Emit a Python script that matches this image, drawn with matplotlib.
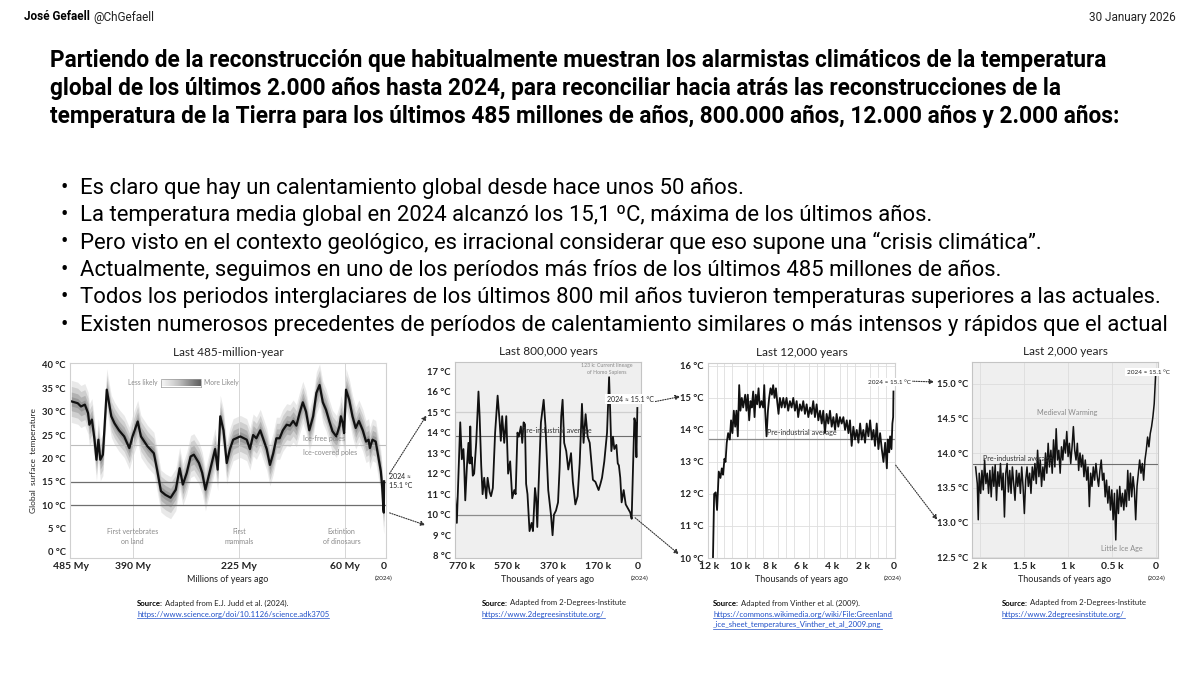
import numpy as np
import matplotlib
matplotlib.use("Agg")
import matplotlib.pyplot as plt

# ---------------- data ----------------
# Last 485 million years (Judd et al. 2024), millions of years ago / deg C
phan_my = [485, 475, 470, 464, 459, 457, 453, 449, 446, 443, 440, 436, 430, 423, 418,
           411, 403, 395, 390, 382, 377, 367, 357, 352, 346, 339, 331, 323, 317, 312,
           306, 300, 295, 287, 282, 277, 262, 258, 254, 249, 244, 239, 234, 223, 213,
           208, 203, 198, 192, 187, 182, 177, 172, 167, 162, 157, 151, 146, 141, 136,
           131, 126, 121, 116, 110, 105, 100, 95, 90, 85, 80, 74, 69, 67, 64,
           62, 59, 54, 49, 44, 39, 33, 28, 24, 22, 18, 13, 9, 5, 3,
           1, 0.4, 0]
phan_temp = [32.2, 31.8, 31.1, 31.5, 29.7, 27.2, 28.3, 24.0, 19.7, 24.0, 19.7, 20.8, 34.7, 29.0, 27.5,
             26.0, 24.7, 22.2, 24.7, 27.9, 24.7, 22.6, 21.1, 17.6, 13.0, 12.2, 11.6, 13.3, 17.9, 14.4,
             16.9, 20.4, 20.8, 19.0, 16.9, 13.3, 22.0, 17.6, 29.0, 26.0, 19.0, 22.0, 24.0, 24.7, 24.0,
             22.0, 25.0, 24.3, 26.0, 24.0, 22.0, 18.6, 21.0, 24.3, 24.3, 26.0, 27.2, 27.0, 28.0, 27.0,
             29.7, 32.0, 30.0, 26.0, 29.0, 34.0, 35.7, 32.0, 30.4, 28.0, 25.8, 24.7, 27.0, 29.0, 27.5,
             25.4, 34.7, 32.5, 29.0, 26.5, 28.0, 26.0, 23.6, 24.0, 22.2, 24.0, 23.6, 20.4, 17.2, 14.0,
             9.0, 8.4, 15.1]

# Last 800,000 years (2-Degrees-Institute), thousands of years ago / deg C
ice_kyr = [800, 792, 777, 770, 763, 760, 755, 748, 741, 736, 733, 729, 726, 722, 716,
           707, 697, 692, 685, 679, 672, 663, 657, 648, 642, 634, 624, 613, 604, 599,
           593, 584, 575, 567, 558, 549, 540, 534, 526, 520, 511, 505, 499, 493, 488,
           482, 473, 464, 458, 449, 444, 439, 433, 423, 411, 403, 391, 379, 372, 366,
           357, 348, 341, 334, 328, 321, 312, 303, 291, 283, 272, 262, 253, 243, 236,
           227, 218, 209, 195, 184, 170, 162, 155, 145, 133, 124, 119, 114, 107, 101,
           92, 86, 81, 75, 69, 60, 51, 41, 31, 25, 19, 13, 9, 4, 0]
ice_temp = [10.96, 9.6, 14.5, 12.7, 13.2, 12.5, 10.7, 12.3, 13.5, 12.5, 14.3, 12.5, 12.8, 11.9, 12.0,
            13.5, 16.0, 14.8, 12.4, 11.0, 11.8, 10.8, 11.8, 11.1, 10.9, 11.3, 14.0, 15.8, 14.5, 13.6,
            14.8, 13.5, 14.8, 12.0, 12.6, 10.8, 11.2, 11.0, 14.0, 13.8, 14.3, 13.5, 14.5, 14.4, 11.5,
            11.0, 9.2, 9.6, 9.2, 11.3, 10.8, 9.4, 11.5, 14.5, 15.6, 14.3, 11.2, 10.0, 9.0, 10.0,
            10.2, 10.6, 12.3, 14.8, 15.6, 13.5, 13.1, 12.2, 13.0, 11.6, 10.5, 10.9, 12.5, 15.4, 13.5,
            14.9, 13.8, 13.5, 11.7, 11.6, 11.2, 11.5, 11.8, 12.6, 14.0, 16.7, 15.0, 13.1, 13.8, 13.2,
            13.4, 12.5, 12.4, 11.8, 10.6, 11.2, 10.5, 10.3, 10.1, 9.8, 12.3, 14.7, 14.5, 12.8, 15.2]

# Last 12,000 years (Vinther et al. 2009)
holo_kyr = [11.75, 11.67, 11.57, 11.48, 11.37, 11.26, 11.17, 11.09, 11.0, 10.93, 10.85, 10.76, 10.65,
            10.57, 10.48, 10.39, 10.30, 10.22, 10.13, 10.04, 9.96, 9.87, 9.78, 9.65, 9.57, 9.48,
            9.39, 9.30, 9.22, 9.13, 9.04, 8.96, 8.87, 8.78, 8.70, 8.59, 8.48, 8.41, 8.35, 8.26,
            8.17, 8.09, 8.0, 7.91, 7.83, 7.74, 7.65, 7.57, 7.48, 7.39, 7.28, 7.17, 7.07, 6.96,
            6.85, 6.74, 6.63, 6.52, 6.41, 6.30, 6.20, 6.09, 5.98, 5.87, 5.76, 5.65, 5.54, 5.43,
            5.33, 5.22, 5.11, 5.0, 4.89, 4.78, 4.67, 4.57, 4.46, 4.35, 4.24, 4.13, 4.02, 3.91,
            3.80, 3.70, 3.59, 3.48, 3.37, 3.26, 3.15, 3.04, 2.93, 2.83, 2.72, 2.61, 2.50, 2.39,
            2.28, 2.17, 2.07, 1.96, 1.85, 1.74, 1.63, 1.52, 1.41, 1.30, 1.20, 1.09, 0.98, 0.87,
            0.76, 0.65, 0.54, 0.43, 0.37, 0.28, 0.22, 0.13, 0.07, 0.02, 0.0]
holo_temp = [9.9, 12.0, 12.05, 11.5, 12.7, 12.5, 12.8, 12.6, 13.1, 13.0, 13.6, 13.9, 13.7,
             14.3, 13.9, 14.6, 14.1, 14.6, 13.8, 15.4, 14.6, 15.0, 14.7, 15.1, 14.6, 15.1,
             14.3, 14.9, 14.7, 15.2, 14.4, 15.1, 14.8, 15.3, 14.7, 14.9, 14.7, 15.4, 14.6, 13.8,
             14.6, 15.0, 15.3, 15.1, 15.4, 15.0, 15.3, 14.9, 14.5, 15.0, 14.7, 15.0, 14.7, 15.0,
             14.6, 14.9, 14.7, 15.0, 14.6, 14.9, 14.4, 14.8, 14.6, 14.9, 14.5, 14.8, 14.4, 14.7,
             14.5, 14.9, 14.4, 14.8, 14.3, 14.6, 14.2, 14.6, 13.9, 14.5, 14.2, 14.6, 14.1, 14.4,
             14.0, 14.5, 14.1, 14.4, 14.2, 14.4, 14.0, 14.3, 13.9, 14.3, 13.5, 14.1, 13.7, 14.0,
             13.6, 14.2, 13.7, 14.0, 13.6, 14.2, 13.8, 14.3, 13.7, 14.0, 13.5, 14.2, 13.4, 13.9,
             13.4, 13.0, 13.6, 12.8, 13.7, 13.3, 13.8, 13.4, 14.2, 14.4, 15.2]

# Last 2,000 years (2-Degrees-Institute)
ce_kyr = [2.049, 2.030, 2.019, 2.008, 1.992, 1.977, 1.962, 1.947, 1.932, 1.917, 1.902, 1.887, 1.872,
          1.857, 1.842, 1.827, 1.812, 1.797, 1.782, 1.767, 1.752, 1.737, 1.722, 1.707, 1.692, 1.677,
          1.662, 1.647, 1.632, 1.617, 1.602, 1.586, 1.571, 1.556, 1.541, 1.526, 1.511, 1.496, 1.481,
          1.466, 1.451, 1.436, 1.421, 1.406, 1.391, 1.376, 1.361, 1.346, 1.331, 1.316, 1.301, 1.286,
          1.271, 1.256, 1.241, 1.226, 1.211, 1.195, 1.180, 1.165, 1.150, 1.135, 1.120, 1.105, 1.090,
          1.075, 1.060, 1.045, 1.030, 1.015, 1.000, 0.985, 0.970, 0.955, 0.940, 0.925, 0.910, 0.895,
          0.880, 0.865, 0.850, 0.835, 0.820, 0.805, 0.789, 0.774, 0.759, 0.744, 0.729, 0.714, 0.699,
          0.684, 0.669, 0.654, 0.639, 0.624, 0.609, 0.594, 0.579, 0.564, 0.549, 0.534, 0.519, 0.504,
          0.489, 0.474, 0.459, 0.444, 0.429, 0.414, 0.398, 0.383, 0.368, 0.353, 0.338, 0.323, 0.308,
          0.293, 0.278, 0.263, 0.248, 0.233, 0.218, 0.203, 0.188, 0.173, 0.158, 0.143, 0.128, 0.113,
          0.098, 0.083, 0.068, 0.053, 0.038, 0.023, 0.008]
ce_temp = [13.80, 13.56, 13.04, 13.71, 13.42, 13.75, 13.47, 13.90, 13.56, 13.71, 13.42, 13.75, 13.37,
           13.80, 13.52, 13.83, 13.32, 13.73, 13.52, 13.85, 13.47, 13.71, 13.08, 13.71, 13.85, 13.44,
           13.75, 13.42, 13.80, 13.56, 13.32, 13.75, 13.52, 13.71, 13.42, 13.80, 13.52, 13.13, 13.61,
           13.80, 13.52, 13.71, 13.42, 13.80, 13.61, 13.85, 13.56, 14.04, 13.66, 13.90, 13.52, 13.80,
           13.61, 14.00, 13.71, 14.14, 13.80, 14.04, 13.71, 14.19, 13.80, 14.35, 13.90, 14.04, 13.71,
           14.09, 13.90, 14.19, 14.00, 14.31, 13.95, 14.14, 13.85, 14.09, 14.38, 14.04, 13.90, 14.14,
           13.75, 14.00, 13.80, 13.97, 13.66, 13.90, 13.61, 13.80, 13.23, 13.71, 13.52, 13.80, 13.61,
           13.85, 13.66, 13.52, 13.75, 13.90, 13.61, 13.71, 13.37, 13.61, 13.28, 13.52, 13.18, 13.47,
           13.04, 13.42, 12.75, 13.47, 13.13, 13.52, 13.23, 13.42, 13.18, 13.47, 13.23, 13.75, 13.32,
           13.71, 13.37, 13.66, 13.47, 13.04, 13.52, 13.71, 13.90, 13.71, 13.85, 13.61, 13.90, 14.04,
           14.23, 14.09, 14.28, 14.38, 14.52, 14.71, 15.10]

title_lines = [
    "Partiendo de la reconstrucción que habitualmente muestran los alarmistas climáticos de la temperatura",
    "global de los últimos 2.000 años hasta 2024, para reconciliar hacia atrás las reconstrucciones de la",
    "temperatura de la Tierra para los últimos 485 millones de años, 800.000 años, 12.000 años y 2.000 años:",
]
bullets = [
    "Es claro que hay un calentamiento global desde hace unos 50 años.",
    "La temperatura media global en 2024 alcanzó los 15,1 ºC, máxima de los últimos años.",
    "Pero visto en el contexto geológico, es irracional considerar que eso supone una “crisis climática”.",
    "Actualmente, seguimos en uno de los períodos más fríos de los últimos 485 millones de años.",
    "Todos los periodos interglaciares de los últimos 800 mil años tuvieron temperaturas superiores a las actuales.",
    "Existen numerosos precedentes de períodos de calentamiento similares o más intensos y rápidos que el actual",
]

W, H = 1200, 673
fig = plt.figure(figsize=(12, 6.73), dpi=100)
fig.patch.set_facecolor("white")
renderer = fig.canvas.get_renderer()

MAIN_FONT = ["Roboto", "DejaVu Sans"]
PANEL_FONT = ["Lato", "DejaVu Sans"]


def ftext(px, py, s, **kw):
    # text placed with pixel coordinates measured from the top-left corner
    return fig.text(px / W, 1 - py / H, s, **kw)


def add_box(left, top, right, bottom):
    return fig.add_axes([left / W, 1 - bottom / H, (right - left) / W, (bottom - top) / H])


def fit_width(t, target):
    w = t.get_window_extent(renderer).width
    t.set_fontsize(t.get_fontsize() * target / w)
    return t.get_fontsize()


# ---------------- header ----------------
t = ftext(24, 17, "José Gefaell", fontsize=8.5, fontweight="bold", family=MAIN_FONT, va="center")
bb = t.get_window_extent(renderer)
ftext(24 + bb.width + 3, 17, "@ChGefaell", fontsize=8.5, family=MAIN_FONT, va="center", color="#222")
ftext(1176, 17, "30 January 2026", fontsize=8.5, family=MAIN_FONT, va="center", ha="right", color="#222")

# ---------------- title + bullets ----------------
t0 = ftext(50, 60, title_lines[0], fontsize=14, fontweight="bold", family=MAIN_FONT, va="center")
fs_title = fit_width(t0, 1062)
for i, line in enumerate(title_lines[1:], start=1):
    ftext(50, 60 + 28 * i, line, fontsize=fs_title, fontweight="bold", family=MAIN_FONT, va="center")

ref = ftext(80, 325, bullets[-1], fontsize=14, family=MAIN_FONT, va="center")
fs_bul = fit_width(ref, 1098)
ref.remove()
for i, line in enumerate(bullets):
    y = 188 + 27.4 * i
    ftext(60, y, "•", fontsize=fs_bul, family=MAIN_FONT, va="center")
    ftext(80, y, line, fontsize=fs_bul, family=MAIN_FONT, va="center")


def style_axes(ax, face, edge):
    ax.set_facecolor(face)
    for sp in ax.spines.values():
        sp.set_color(edge)
        sp.set_linewidth(0.8)
    ax.tick_params(length=0, pad=3, colors="#222")
    for lab in ax.get_xticklabels():
        lab.set_family(PANEL_FONT)
        lab.set_fontsize(7.5)
        lab.set_fontweight("bold")
    for lab in ax.get_yticklabels():
        lab.set_family(PANEL_FONT)
        lab.set_fontsize(6.8)
        lab.set_fontweight("bold")


LINE = "#111111"

# ---------------- panel 1: 485 million years ----------------
ax1 = add_box(70, 363, 386, 558)
ax1.set_xlim(487, -3)
ax1.set_ylim(-1.3, 40.4)
for off, a in [(4.5, 0.14), (3.2, 0.2), (2.0, 0.28), (1.0, 0.35)]:
    ax1.fill_between(phan_my, np.array(phan_temp) - off, np.array(phan_temp) + off,
                     color="#6a6a6a", alpha=a, lw=0)
for xg in [390, 225, 60]:
    ax1.axvline(xg, color="#d6d6d6", lw=0.7)
ax1.axhline(22.8, color="#bdbdbd", lw=0.8)
ax1.axhline(15, color="#6e6e6e", lw=0.9)
ax1.axhline(10, color="#6e6e6e", lw=0.9)
ax1.plot(phan_my, phan_temp, color=LINE, lw=1.6)
ax1.set_xticks([485, 390, 225, 60, 0])
ax1.set_xticklabels(["485 My", "390 My", "225 My", "60 My", "0"])
ax1.set_yticks(range(0, 41, 5))
ax1.set_yticklabels([f"{v} °C" for v in range(0, 41, 5)])
style_axes(ax1, "white", "#d0d0d0")
ax1.set_title("Last 485-million-year", fontsize=8.5, family=PANEL_FONT, color="#222", pad=5)
ax1.set_xlabel("Millions of years ago", fontsize=6.5, family=PANEL_FONT, labelpad=3, color="#222")
ax1.set_ylabel("Global  surface  temperature", fontsize=6, family=PANEL_FONT, labelpad=4, color="#222")
grey_kw = dict(fontsize=5, family=PANEL_FONT, color="#8a8a8a", ha="center", va="center")
ax1.text(390, 3.2, "First vertebrates\non land", linespacing=1.5, **grey_kw)
ax1.text(225, 3.2, "First\nmammals", linespacing=1.5, **grey_kw)
ax1.text(66, 3.2, "Extintion\nof dinosaurs", linespacing=1.5, **grey_kw)
ax1.text(125, 24.2, "Ice-free poles", fontsize=5, family=PANEL_FONT, color="#8a8a8a", va="center")
ax1.text(125, 21.3, "Ice-covered poles", fontsize=5, family=PANEL_FONT, color="#8a8a8a", va="center")
# likelihood legend
ftext(158, 383, "Less likely", fontsize=4.8, family=PANEL_FONT, color="#8a8a8a", ha="right", va="center")
ftext(204, 383, "More Likely", fontsize=4.8, family=PANEL_FONT, color="#8a8a8a", ha="left", va="center")
lg = add_box(161, 379.5, 201, 386.5)
lg.imshow(np.linspace(0, 1, 50)[None, :], cmap="Greys", vmin=-0.15, vmax=1.5, aspect="auto")
lg.set_xticks([])
lg.set_yticks([])
for sp in lg.spines.values():
    sp.set_color("#999")
    sp.set_linewidth(0.5)
ftext(389, 481, "2024 ≈\n15.1 °C", fontsize=5, family=PANEL_FONT, color="#222", va="center", linespacing=1.3)

# ---------------- panel 2: 800,000 years ----------------
ax2 = add_box(455, 362, 641, 558)
ax2.set_xlim(800, -16)
ax2.set_ylim(7.89, 17.44)
ax2.axhline(15, color="#cfcfcf", lw=0.9)
ax2.axhline(13.85, color="#6e6e6e", lw=0.8)
ax2.axhline(10, color="#8c8c8c", lw=0.9)
ax2.plot(ice_kyr, ice_temp, color=LINE, lw=1.3)
ax2.set_xticks([770, 570, 370, 170, 0])
ax2.set_xticklabels(["770 k", "570 k", "370 k", "170 k", "0"])
ax2.set_yticks(range(8, 18))
ax2.set_yticklabels([f"{v} °C" for v in range(8, 18)])
style_axes(ax2, "#efefef", "#c4c4c4")
ax2.set_title("Last 800,000 years", fontsize=8.5, family=PANEL_FONT, color="#222", pad=5)
ax2.set_xlabel("Thousands of years ago", fontsize=6.5, family=PANEL_FONT, labelpad=3, color="#222")
ftext(607, 369, "123 k: Current lineage\nof Homo Sapiens", fontsize=3.8, family=PANEL_FONT,
      color="#8a8a8a", ha="center", va="center", linespacing=1.3)
ftext(557, 430, "Pre-industrial average", fontsize=5.2, family=PANEL_FONT, color="#333",
      ha="center", va="center")
ftext(630, 399, "2024 ≈ 15.1 °C", fontsize=5, family=PANEL_FONT, color="#222", ha="center",
      va="center", bbox=dict(fc="white", ec="none", pad=1.2))

# ---------------- panel 3: 12,000 years ----------------
ax3 = add_box(708, 363, 895, 558)
ax3.set_xlim(12.07, -0.1)
ax3.set_ylim(10.0, 16.09)
ax3.set_xticks(np.arange(0, 12.01, 0.5), minor=True)
ax3.grid(True, which="minor", axis="x", color="#dedede", lw=0.6)
ax3.grid(True, which="major", axis="y", color="#dedede", lw=0.6)
ax3.tick_params(which="minor", length=0)
ax3.axhline(13.72, color="#8c8c8c", lw=0.9)
ax3.plot(holo_kyr, holo_temp, color=LINE, lw=1.3)
ax3.set_xticks([12, 10, 8, 6, 4, 2, 0])
ax3.set_xticklabels(["12 k", "10 k", "8 k", "6 k", "4 k", "2 k", "0"])
ax3.set_yticks(range(10, 17))
ax3.set_yticklabels([f"{v} °C" for v in range(10, 17)])
style_axes(ax3, "white", "#d0d0d0")
ax3.set_title("Last 12,000 years", fontsize=8.5, family=PANEL_FONT, color="#222", pad=5)
ax3.set_xlabel("Thousands of years ago", fontsize=6.5, family=PANEL_FONT, labelpad=3, color="#222")
ftext(802, 432, "Pre-industrial average", fontsize=5.2, family=PANEL_FONT, color="#333",
      ha="center", va="center")
ftext(889, 382, "2024 ≈ 15.1 °C", fontsize=4.6, family=PANEL_FONT, color="#222", ha="center",
      va="center", bbox=dict(fc="white", ec="none", pad=1.0))

# ---------------- panel 4: 2,000 years ----------------
ax4 = add_box(972, 362, 1158, 558)
ax4.set_xlim(2.09, -0.02)
ax4.set_ylim(12.49, 15.31)
ax4.grid(True, color="#dcdcdc", lw=0.6)
ax4.set_axisbelow(True)
ax4.axhline(13.84, color="#6e6e6e", lw=0.8)
ax4.plot(ce_kyr, ce_temp, color=LINE, lw=1.1)
ax4.set_xticks([2, 1.5, 1, 0.5, 0])
ax4.set_xticklabels(["2 k", "1.5 k", "1 k", "0.5 k", "0"])
ax4.set_yticks([12.5, 13.0, 13.5, 14.0, 14.5, 15.0])
ax4.set_yticklabels([f"{v:.1f} °C" for v in [12.5, 13.0, 13.5, 14.0, 14.5, 15.0]])
style_axes(ax4, "#efefef", "#c4c4c4")
ax4.set_title("Last 2,000 years", fontsize=8.5, family=PANEL_FONT, color="#222", pad=5)
ax4.set_xlabel("Thousands of years ago", fontsize=6.5, family=PANEL_FONT, labelpad=3, color="#222")
ftext(1067, 413, "Medieval Warming", fontsize=5.2, family=PANEL_FONT, color="#8a8a8a", ha="center", va="center")
ftext(1122, 548, "Little Ice Age", fontsize=5.2, family=PANEL_FONT, color="#8a8a8a", ha="center", va="center")
ftext(983, 458, "Pre-industrial average", fontsize=5.2, family=PANEL_FONT, color="#333", va="center")
ftext(1148, 372, "2024 ≈ 15.1 °C", fontsize=4.6, family=PANEL_FONT, color="#222", ha="center",
      va="center", bbox=dict(fc="white", ec="none", pad=1.0))

# "(2024)" under each zero tick
for px in [384, 640, 893, 1157]:
    ftext(px, 578, "(2024)", fontsize=4.5, family=PANEL_FONT, color="#222", ha="center", va="center")

# ---------------- dotted connectors ----------------
arrows = [((388, 476), (428, 413)), ((387, 512), (428, 526)),
          ((643, 404), (683, 396)), ((633, 516), (681, 556)),
          ((906, 381), (937, 382)), ((894, 463), (939, 522))]
for (x0, y0), (x1, y1) in arrows:
    fig.add_artist(matplotlib.patches.FancyArrowPatch(
        (x0 / W, 1 - y0 / H), (x1 / W, 1 - y1 / H), transform=fig.transFigure,
        arrowstyle="-|>", mutation_scale=7, color="#333", lw=0.8, linestyle=(0, (1, 1.2))))

# ---------------- sources ----------------
sources = [
    (137, "Adapted from E.J. Judd et al. (2024).", ["https://www.science.org/doi/10.1126/science.adk3705"]),
    (482, "Adapted from 2-Degrees-Institute", ["https://www.2degreesinstitute.org/"]),
    (713, "Adapted from Vinther et al. (2009).",
     ["https://commons.wikimedia.org/wiki/File:Greenland", "_ice_sheet_temperatures_Vinther_et_al_2009.png"]),
    (1002, "Adapted from 2-Degrees-Institute", ["https://www.2degreesinstitute.org/"]),
]
for px, desc, links in sources:
    s = ftext(px, 603, "Source:", fontsize=5.6, fontweight="bold", family=PANEL_FONT, va="center")
    sw = s.get_window_extent(renderer).width
    ftext(px + sw + 2, 603, desc, fontsize=5.6, family=PANEL_FONT, va="center", color="#222")
    for j, link in enumerate(links):
        y = 614 + 11 * j
        lt = ftext(px, y, link, fontsize=5.6, family=PANEL_FONT, va="center", color="#1f4fc8")
        lw_ = lt.get_window_extent(renderer).width
        fig.add_artist(plt.Line2D([px / W, (px + lw_) / W], [1 - (y + 4) / H] * 2,
                                  transform=fig.transFigure, color="#1f4fc8", lw=0.5))

fig.savefig("out.png", dpi=100)
